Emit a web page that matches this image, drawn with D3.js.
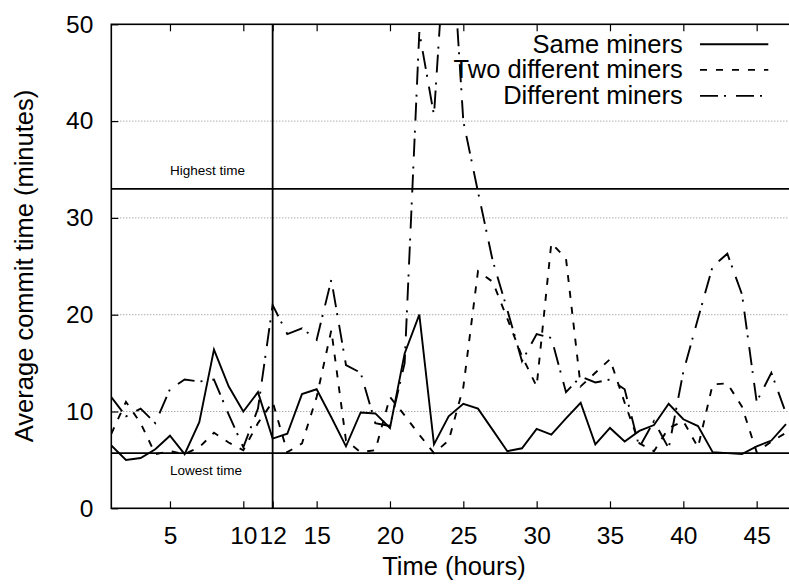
<!DOCTYPE html>
<html>
<head>
<meta charset="utf-8">
<script src="https://cdn.jsdelivr.net/npm/d3@7"></script>
<style>
  body { margin: 0; background: #fff; }
  text { font-family: "Liberation Sans", Arial, sans-serif; fill: #000; }
</style>
</head>
<body>
<svg id="chart" width="789" height="584"></svg>
<script>
// hours 1..47, average commit time in minutes
const hours = d3.range(1, 48);
const sameMiners = [6.5, 5.0, 5.2, 6.1, 7.5, 5.6, 8.9, 16.4, 12.6, 10.0, 12.0, 7.2, 7.7, 11.8, 12.3, 9.4,
  6.4, 9.9, 9.8, 8.3, 16.0, 20.0, 6.6, 9.5, 10.8, 10.3, 8.1, 5.9, 6.2, 8.2, 7.6, 9.3, 10.9, 6.6, 8.3, 6.9,
  8.0, 8.6, 10.8, 9.2, 8.5, 5.8, 5.7, 5.6, 6.4, 7.0, 8.7];
const twoDifferentMiners = [7.7, 11.0, 8.8, 5.6, 5.9, 5.6, 6.3, 7.8, 6.8, 6.0, 8.8, 11.0, 5.8, 6.7, 11.5, 18.4,
  7.0, 5.8, 6.0, 11.5, 9.6, 7.6, 5.7, 7.0, 12.5, 24.5, 23.4, 19.6, 15.7, 12.6, 27.4, 25.8, 12.6, 14.0, 15.4, 10.9,
  6.7, 5.9, 8.3, 9.0, 6.3, 12.8, 12.9, 10.5, 5.8, 6.9, 7.8];
const differentMiners = [11.5, 9.5, 10.3, 8.8, 12.3, 13.3, 13.1, 13.3, 9.7, 6.3, 10.3, 21.0, 18.0, 18.6, 17.4, 23.6,
  14.8, 14.0, 8.8, 8.5, 15.0, 49.2, 40.6, 64.0, 40.0, 32.7, 25.6, 20.5, 15.2, 18.0, 17.6, 12.0, 13.6, 13.0, 13.3, 12.3,
  6.3, 9.0, 6.2, 14.1, 19.6, 25.0, 26.3, 22.1, 11.0, 14.0, 9.8];

const seriesNames = ['Same miners', 'Two different miners', 'Different miners'];
const xTicks = [5, 10, 12, 15, 20, 25, 30, 35, 40, 45];
const yTicks = [0, 10, 20, 30, 40, 50];
const gridValues = [10, 20, 30, 40];
const highestTime = 33.0;
const lowestTime = 5.7;
const splitHour = 12;

const plotLeft = 111.3, plotTop = 24.3, plotBottom = 508.3, plotRight = 790.4;

const svg = d3.select('#chart');

const x = d3.scaleLinear().domain([1, 47.3]).range([plotLeft, plotRight]);
const y = d3.scaleLinear().domain([0, 50]).range([plotBottom, plotTop]);

// dotted grid
svg.append('g')
  .selectAll('line')
  .data(gridValues)
  .enter()
  .append('line')
  .attr('x1', plotLeft).attr('x2', plotRight)
  .attr('y1', d => y(d)).attr('y2', d => y(d))
  .style('stroke', '#8a8a8a')
  .style('stroke-width', 1)
  .style('stroke-dasharray', '1,2');

// axes with inward ticks
const xAxis = svg.append('g')
  .attr('transform', `translate(0,${plotBottom})`)
  .call(d3.axisBottom(x).tickValues(xTicks).tickSizeInner(-7).tickSizeOuter(0).tickPadding(18));
const xTop = svg.append('g')
  .attr('transform', `translate(0,${plotTop})`)
  .call(d3.axisTop(x).tickValues(xTicks).tickSizeInner(-7).tickSizeOuter(0).tickFormat(''));
const yAxis = svg.append('g')
  .attr('transform', `translate(${plotLeft},0)`)
  .call(d3.axisLeft(y).tickValues(yTicks).tickSizeInner(-7).tickSizeOuter(0).tickPadding(18));

[xAxis, xTop, yAxis].forEach(g => {
  g.select('.domain').remove();
  g.selectAll('.tick line').style('stroke', '#000').style('stroke-width', 1.2);
  g.selectAll('.tick text')
    .style('font-family', '"Liberation Sans", Arial, sans-serif')
    .style('font-size', '24.5px')
    .style('fill', '#000');
});

// border
svg.append('rect')
  .attr('x', plotLeft).attr('y', plotTop)
  .attr('width', plotRight - plotLeft).attr('height', plotBottom - plotTop)
  .style('fill', 'none')
  .style('stroke', '#000')
  .style('stroke-width', 1.6);

// reference lines
svg.append('g')
  .selectAll('line')
  .data([highestTime, lowestTime])
  .enter()
  .append('line')
  .attr('x1', plotLeft).attr('x2', plotRight)
  .attr('y1', d => y(d)).attr('y2', d => y(d))
  .style('stroke', '#000')
  .style('stroke-width', 1.8);

svg.append('line')
  .attr('x1', x(splitHour)).attr('x2', x(splitHour))
  .attr('y1', plotTop).attr('y2', plotBottom)
  .style('stroke', '#000')
  .style('stroke-width', 1.8);

svg.append('text')
  .attr('x', x(5)).attr('y', y(highestTime) - 14)
  .style('font-size', '13.5px')
  .text('Highest time');
svg.append('text')
  .attr('x', x(5)).attr('y', y(lowestTime) + 22)
  .style('font-size', '13.5px')
  .text('Lowest time');

// data lines
svg.append('clipPath').attr('id', 'plot-clip')
  .append('rect')
  .attr('x', plotLeft).attr('y', plotTop)
  .attr('width', plotRight - plotLeft).attr('height', plotBottom - plotTop);

const dashes = [null, '7,9', '18,6,2,10'];
const allSeries = [sameMiners, twoDifferentMiners, differentMiners];

const line = d3.line()
  .x((d, i) => x(hours[i]))
  .y(d => y(d));

svg.append('g')
  .attr('clip-path', 'url(#plot-clip)')
  .selectAll('path')
  .data(allSeries)
  .enter()
  .append('path')
  .attr('d', line)
  .style('fill', 'none')
  .style('stroke', '#000')
  .style('stroke-width', 1.9)
  .style('stroke-linejoin', 'miter')
  .style('stroke-dasharray', (d, i) => dashes[i]);

// legend
const legendRows = [52.7, 78.3, 104.3];
const legend = svg.append('g')
  .selectAll('g')
  .data(seriesNames)
  .enter()
  .append('g');
legend.append('text')
  .attr('x', 682.7)
  .attr('y', (d, i) => legendRows[i])
  .style('text-anchor', 'end')
  .style('font-size', '25.5px')
  .text(d => d);
legend.append('line')
  .attr('x1', 700).attr('x2', 768.3)
  .attr('y1', (d, i) => legendRows[i] - 8.4)
  .attr('y2', (d, i) => legendRows[i] - 8.4)
  .style('stroke', '#000')
  .style('stroke-width', 1.9)
  .style('stroke-dasharray', (d, i) => dashes[i]);

// axis titles
svg.append('text')
  .attr('x', 454).attr('y', 575)
  .style('text-anchor', 'middle')
  .style('font-size', '25.5px')
  .text('Time (hours)');
svg.append('text')
  .attr('transform', 'translate(33,266) rotate(-90)')
  .style('text-anchor', 'middle')
  .style('font-size', '25.5px')
  .text('Average commit time (minutes)');
</script>
</body>
</html>
